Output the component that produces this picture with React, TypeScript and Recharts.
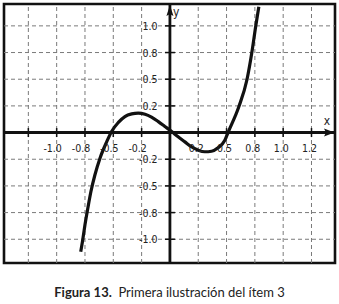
import React from 'react';
import {
  LineChart,
  Line,
  XAxis,
  YAxis,
  ReferenceLine,
  ReferenceDot,
  ReferenceArea,
} from 'recharts';

// both axes are in grid steps; the printed tick labels are not evenly spaced
const xTicks = [-5, -4, -3, -2, -1, 0, 1, 2, 3, 4, 5];
const xTickLabels = ['', '-1.0', '-0.8', '-0.5', '-0.2', '', '0.2', '0.5', '0.8', '1.0', '1.2'];
const yTicks = [-4, -3, -2, -1, 0, 1, 2, 3, 4];
const yTickLabels = ['-1.0', '-0.8', '-0.5', '-0.2', '', '0.2', '0.5', '0.8', '1.0'];

// points (grid steps)
const curveX = [
  -3.15, -3.09, -3.0, -2.9, -2.79, -2.65, -2.47, -2.23, -2.06, -1.82, -1.59, -1.35, -1.12, -0.88, -0.65, -0.41,
  -0.18, 0.06, 0.29, 0.53, 0.77, 1.0, 1.23, 1.47, 1.7, 1.94, 2.06, 2.43, 2.72, 2.89, 3.03, 3.14,
];
const curveY = [
  -4.47, -4.09, -3.46, -2.84, -2.21, -1.59, -0.96, -0.34, 0.04, 0.38, 0.6, 0.7, 0.73, 0.69, 0.58, 0.41,
  0.23, 0.04, -0.16, -0.35, -0.54, -0.66, -0.72, -0.7, -0.57, -0.29, 0.02, 0.96, 1.98, 2.98, 3.99, 4.72,
];

const X_MIN = -5.86;
const X_MAX = 5.83;
const Y_MIN = -4.89;
const Y_MAX = 4.82;

const data = curveX.map((x, i) => ({ x, y: curveY[i] }));

const tickFont = "'Liberation Sans Narrow', 'Arial Narrow', 'DejaVu Sans Condensed', sans-serif";

export default function App() {
  return (
    <div style={{ position: 'absolute', left: 0, top: 0, width: 339, height: 304, background: '#fff' }}>
      <LineChart width={339} height={270} data={data} margin={{ top: 4, right: 4, bottom: 7, left: 4 }}>
        <XAxis
          type="number"
          dataKey="x"
          domain={[X_MIN, X_MAX]}
          ticks={xTicks}
          allowDataOverflow
          tick={false}
          axisLine={false}
          tickLine={false}
          height={0}
        />
        <YAxis
          type="number"
          domain={[Y_MIN, Y_MAX]}
          ticks={yTicks}
          allowDataOverflow
          tick={false}
          axisLine={false}
          tickLine={false}
          width={0}
        />
        {/* dashed grid */}
        {xTicks
          .filter((t) => t !== 0)
          .map((t) => (
            <ReferenceLine key={'gx' + t} x={t} stroke="#7a7a7a" strokeWidth={1} strokeDasharray="4 3" />
          ))}
        {yTicks
          .filter((t) => t !== 0)
          .map((t) => (
            <ReferenceLine key={'gy' + t} y={t} stroke="#7a7a7a" strokeWidth={1} strokeDasharray="4 3" />
          ))}
        <ReferenceArea x1={X_MIN} x2={X_MAX} y1={Y_MIN} y2={Y_MAX} fill="none" stroke="#111" strokeWidth={2.6} fillOpacity={0} />
        <ReferenceLine y={0} stroke="#111" strokeWidth={3} />
        <ReferenceLine x={0} stroke="#111" strokeWidth={2.8} />
        {xTicks.map((t, i) => (
          <ReferenceDot
            key={'xt' + t}
            x={t}
            y={0}
            shape={(p: any) => (
              <g>
                {t !== 0 && <line x1={p.cx} x2={p.cx} y1={p.cy - 4.5} y2={p.cy + 4.5} stroke="#111" strokeWidth={1.5} />}
                <text
                  x={p.cx + (t < 0 ? -4 : -2)}
                  y={p.cy + 15}
                  textAnchor="middle"
                  dominantBaseline="central"
                  fontFamily={tickFont}
                  fontSize={10.5}
                  fill="#222"
                >
                  {xTickLabels[i]}
                </text>
              </g>
            )}
          />
        ))}
        {yTicks.map((t, i) => (
          <ReferenceDot
            key={'yt' + t}
            x={0}
            y={t}
            shape={(p: any) => (
              <g>
                {t !== 0 && <line x1={p.cx - 5} x2={p.cx + 5} y1={p.cy} y2={p.cy} stroke="#111" strokeWidth={1.5} />}
                <text
                  x={p.cx - 12.5}
                  y={p.cy}
                  textAnchor="end"
                  dominantBaseline="central"
                  fontFamily={tickFont}
                  fontSize={10.5}
                  fill="#222"
                >
                  {yTickLabels[i]}
                </text>
              </g>
            )}
          />
        ))}
        <ReferenceDot
          x={X_MAX}
          y={0}
          shape={(p: any) => (
            <g>
              <polygon
                points={`${p.cx - 0.5},${p.cy} ${p.cx - 11},${p.cy - 4} ${p.cx - 9},${p.cy} ${p.cx - 11},${p.cy + 4}`}
                fill="#111"
              />
              <text x={p.cx - 8} y={p.cy - 8} textAnchor="middle" fontFamily={tickFont} fontSize={12} fill="#222">
                x
              </text>
            </g>
          )}
        />
        <ReferenceDot
          x={0}
          y={Y_MAX}
          shape={(p: any) => (
            <g>
              <polygon
                points={`${p.cx},${p.cy + 1} ${p.cx - 3.5},${p.cy + 12} ${p.cx},${p.cy + 10} ${p.cx + 3.5},${p.cy + 12}`}
                fill="#111"
              />
              <text x={p.cx + 3} y={p.cy + 12} textAnchor="start" fontFamily={tickFont} fontSize={12} fill="#222">
                y
              </text>
            </g>
          )}
        />
        <Line
          type="monotone"
          dataKey="y"
          stroke="#111"
          strokeWidth={3.2}
          dot={false}
          activeDot={false}
          isAnimationActive={false}
        />
      </LineChart>
      <div
        style={{
          position: 'absolute',
          left: 0,
          top: 284,
          width: 339,
          textAlign: 'center',
          fontFamily: "Lato, 'Open Sans', sans-serif",
          fontSize: 13,
          lineHeight: '16px',
          color: '#222',
          whiteSpace: 'nowrap',
        }}
      >
        <span style={{ fontWeight: 700 }}>Figura 13.</span>&nbsp;&nbsp;Primera ilustración del ítem 3
      </div>
    </div>
  );
}
